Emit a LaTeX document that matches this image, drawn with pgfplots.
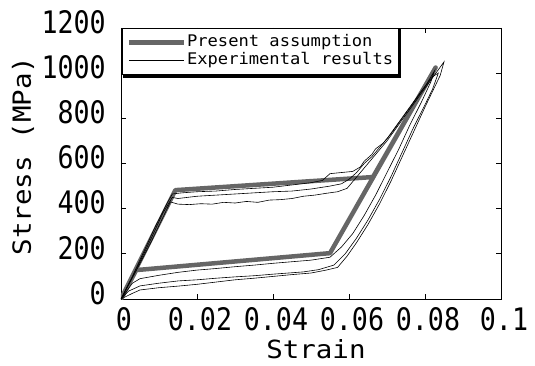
\documentclass[border=0pt]{standalone}
\usepackage{pgfplots}
\pgfplotsset{compat=1.18}
\usepackage{fontspec}
\setmainfont{DejaVu Sans Mono}
\newfontfamily\tickfam[FakeStretch=0.86]{DejaVu Sans Mono}
\newfontfamily\labfam[FakeStretch=1.1]{DejaVu Sans Mono}
\newfontfamily\legfam[FakeStretch=1.07]{DejaVu Sans Mono}
\newcommand\tickfont{\tickfam\fontsize{31bp}{32bp}\selectfont}
\newcommand\labfont{\labfam\fontsize{25bp}{26bp}\selectfont}
\newcommand\legfont{\legfam\fontsize{16bp}{17bp}\selectfont}
\definecolor{modelgray}{HTML}{666666}
\begin{document}
\begin{tikzpicture}
\path[use as bounding box] (-121bp,-67bp) rectangle (414bp,299bp);
\begin{axis}[
  scale only axis,
  width=380bp, height=271bp,
  xmin=0, xmax=0.1, ymin=0, ymax=1200,
  xtick={0,0.02,0.04,0.06,0.08,0.1},
  xticklabels={0,0.02,0.04,0.06,0.08,0.1},
  ytick={0,200,400,600,800,1000,1200},
  yticklabels={0,200,400,600,800,1000,1200},
  tick align=inside,
  major tick length=5bp,
  axis line style={line width=0.9bp},
  tick style={line width=0.7bp, black},
  ticklabel style={font=\tickfont},
  yticklabel style={inner sep=0pt, anchor=east, xshift=-15bp, yshift=6bp},
  xticklabel style={inner sep=0pt, anchor=north, yshift=-8bp, xshift=3bp},
  xlabel={Strain},
  ylabel={Stress (MPa)},
  label style={font=\labfont},
  xlabel style={at={(axis description cs:0.513,-0.218)}, anchor=base},
  ylabel style={at={(axis description cs:-0.258,0.528)}, anchor=center},
  legend style={at={(axis description cs:0.003,1)}, anchor=north west,
    name=leg,
    font=\legfont, draw=black, line width=0.8bp, fill=white,
    inner xsep=4bp, inner ysep=5bp, row sep=0pt,
    nodes={text height=12bp, text depth=4bp, inner sep=1bp},
    /tikz/every even column/.append style={column sep=6bp}},
  legend cell align=left,
  legend image code/.code={\draw[#1] (0bp,0bp) -- (55bp,0bp);},
]
% Present assumption
\addplot[modelgray, line width=4.5bp, line join=round] coordinates {
 (0,0) (0.0143,482) (0.0663,540) (0.0828,1025) (0.055,203) (0.004,128) (0,0)
};
\addlegendentry{Present assumption}
% Experimental loop A
\addplot[black, line width=0.6bp] coordinates {
 (0,0) (0.003,100) (0.006,210) (0.009,320) (0.012,420) (0.0135,465) (0.016,470)
 (0.02,475) (0.025,478) (0.03,485) (0.035,490) (0.04,495) (0.045,505) (0.05,515)
 (0.053,525) (0.055,555) (0.058,560) (0.061,565) (0.063,585) (0.064,610) (0.066,640)
 (0.067,665) (0.069,690) (0.071,730) (0.074,800) (0.077,870) (0.080,940) (0.0825,1010)
 (0.0815,960) (0.079,870) (0.076,770) (0.073,660) (0.070,560) (0.067,460) (0.064,370)
 (0.061,290) (0.058,230) (0.055,185) (0.05,172) (0.045,165) (0.04,158) (0.035,150)
 (0.03,143) (0.025,135) (0.02,128) (0.015,118) (0.01,105) (0.005,90) (0.003,70) (0,0)
};
\addlegendentry{Experimental results}
% Experimental loop B
\addplot[black, line width=0.6bp, forget plot] coordinates {
 (0,0) (0.004,130) (0.008,270) (0.011,380) (0.0135,450) (0.015,445) (0.02,455)
 (0.025,460) (0.03,465) (0.035,470) (0.04,475) (0.045,478) (0.05,487) (0.055,500)
 (0.058,510) (0.06,530) (0.062,560) (0.064,600) (0.066,630) (0.068,670) (0.07,710)
 (0.073,780) (0.076,850) (0.079,920) (0.082,985) (0.0835,1000)
 (0.082,930) (0.08,860) (0.077,760) (0.074,650) (0.071,540) (0.068,440) (0.065,350)
 (0.062,270) (0.059,200) (0.056,150) (0.052,130) (0.048,120) (0.04,110) (0.035,103)
 (0.03,98) (0.025,92) (0.02,85) (0.015,80) (0.01,70) (0.005,58) (0.002,35) (0,0)
};
% Experimental loop C
\addplot[black, line width=0.6bp, forget plot] coordinates {
 (0,0) (0.004,125) (0.008,255) (0.011,360) (0.013,430) (0.015,420) (0.018,418)
 (0.021,422) (0.024,420) (0.027,428) (0.03,425) (0.033,432) (0.036,428) (0.039,438)
 (0.042,440) (0.045,445) (0.048,455) (0.051,460) (0.054,468) (0.057,475) (0.0595,490)
 (0.062,540) (0.064,580) (0.066,620) (0.068,660) (0.07,700) (0.073,770) (0.076,840)
 (0.079,910) (0.082,980) (0.085,1050)
 (0.084,990) (0.082,920) (0.08,850) (0.077,740) (0.074,630) (0.071,520) (0.068,420)
 (0.065,330) (0.062,250) (0.0595,190) (0.057,140) (0.054,128) (0.05,115) (0.045,108)
 (0.04,100) (0.035,92) (0.03,85) (0.025,75) (0.02,65) (0.015,57) (0.01,50) (0.005,40)
 (0.003,25) (0,0)
};
\end{axis}
\draw[line width=2.5bp, line cap=rect]
  ([xshift=1.6bp,yshift=-2.5bp]leg.north east) -- ([xshift=1.6bp,yshift=-1.6bp]leg.south east)
  -- ([xshift=2.5bp,yshift=-1.6bp]leg.south west);
\end{tikzpicture}
\end{document}
